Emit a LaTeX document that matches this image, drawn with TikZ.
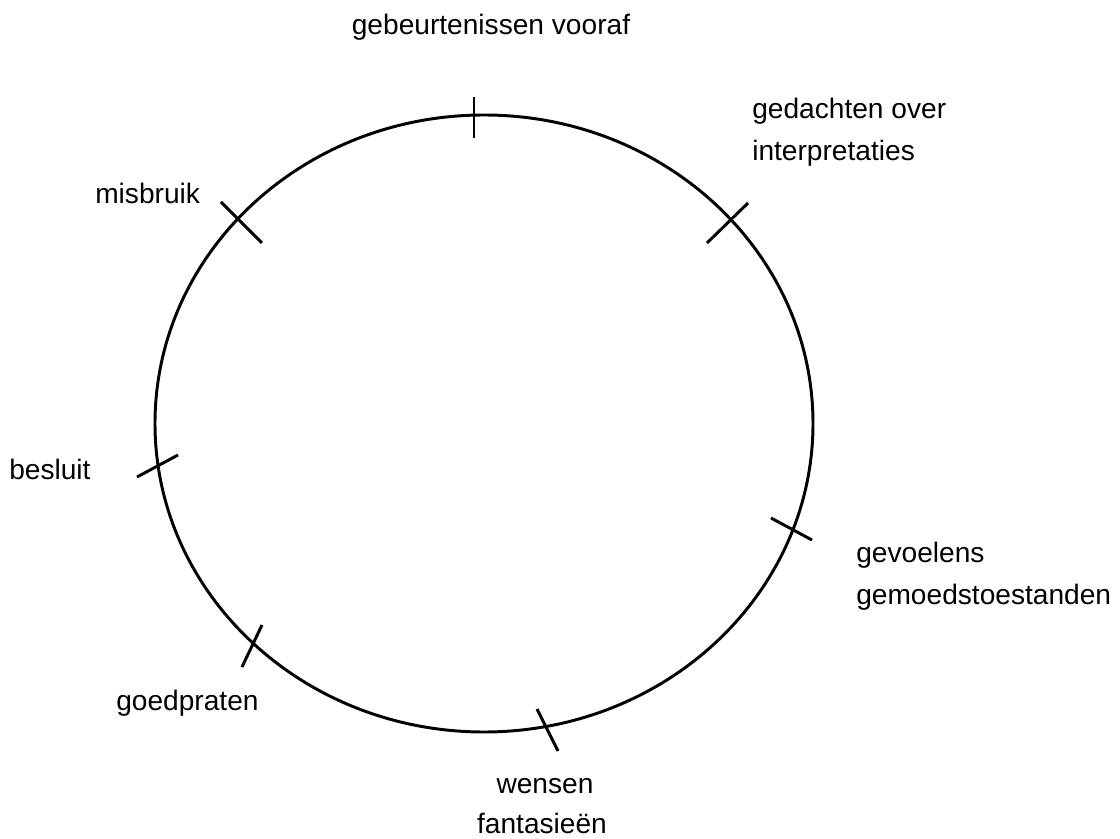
\documentclass[tikz,border=0pt]{standalone}
\usepackage{fontspec}
\setmainfont{Liberation Sans}
\usetikzlibrary{positioning}

\begin{document}
\begin{tikzpicture}[x=0.025cm,y=-0.025cm,
  ring/.style={draw,line width=2.1pt},
  tick line/.style={draw,line width=2.1pt},
  label node/.style={inner sep=0pt,font=\fontsize{20}{30}\selectfont}]
  \useasboundingbox (0,0) rectangle (1120,839);

  % the cycle
  \draw[ring] (484,423.5) ellipse [x radius=329,y radius=308.5];

  % marks on the cycle
  \foreach \ax/\ay/\bx/\by in {474/97/474/138, 707/243/748/203, 221/202/262/243,
      137/477/178/455, 771/518/812/540, 242/667/262/625, 537/709/558/751}
    \draw[tick line] (\ax,\ay) -- (\bx,\by);

  % labels
  \node[label node,anchor=base] (gebeurtenissen) at (491,35) {gebeurtenissen vooraf};
  \node[label node,anchor=base west] (gedachten) at (752,119) {gedachten over};
  \node[label node,anchor=base west] (interpretaties) at (752,161) {interpretaties};
  \node[label node,anchor=base west] (misbruik) at (95,204) {misbruik};
  \node[label node,anchor=base west] (besluit) at (9,480) {besluit};
  \node[label node,anchor=base west] (gevoelens) at (856,563) {gevoelens};
  \node[label node,anchor=base west] (gemoed) at (856,605) {gemoedstoestanden};
  \node[label node,anchor=base west] (goedpraten) at (116,710) {goedpraten};
  \node[label node,anchor=base] (wensen) at (545,793) {wensen};
  \node[label node,anchor=base] (fantasie) at (542,833) {fantasieën};
\end{tikzpicture}
\end{document}
